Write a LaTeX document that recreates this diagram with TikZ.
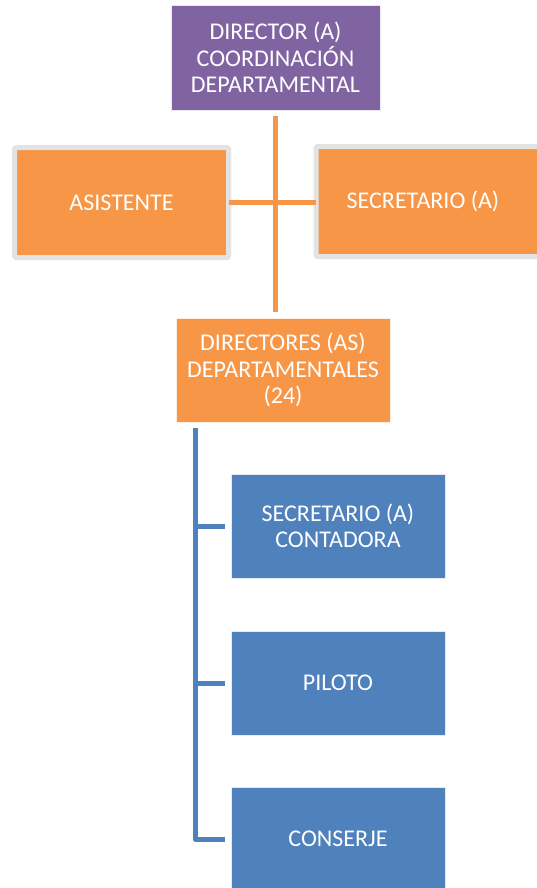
\documentclass[tikz,border=0pt]{standalone}
\usepackage{fontspec}
\setmainfont{Carlito}
\usepackage{tikz}
\usetikzlibrary{positioning}
\definecolor{lila}{HTML}{8064A2}
\definecolor{orange}{HTML}{F79646}
\definecolor{blau}{HTML}{4F81BD}
\definecolor{randgrau}{HTML}{E3E3E3}

\begin{document}
\begin{tikzpicture}[x=1pt, y=-1pt,
  every node/.style={font=\fontsize{24}{26.5}\selectfont, text=white, align=center, inner sep=0pt},
  box/.style={minimum width=214pt, minimum height=104pt},
  lilabox/.style={box, fill=lila, draw=white!85!lila, line width=0.6pt},
  orangebox/.style={box, fill=orange, draw=white!85!orange, line width=0.6pt},
  grauebox/.style={box, fill=orange, draw=randgrau, line width=5pt, rounded corners=1.5pt, minimum height=110pt},
  blaubox/.style={box, fill=blau, draw=white!85!blau, line width=0.6pt},
  oline/.style={orange, line width=5pt},
  bline/.style={blau, line width=5pt, line join=round}]

  % Rahmen
  \useasboundingbox (0,0) rectangle (537,888);
  \clip (0,0) rectangle (537,888);

  % Knoten oben
  \node[lilabox, minimum width=209pt, minimum height=105pt] (dir) at (275.5,57.5)
    {DIRECTOR (A)\\COORDINACIÓN\\DEPARTAMENTAL};
  \node[grauebox] (asis) at (121.5,202.5) {ASISTENTE};
  \node[grauebox, anchor=west, minimum width=240pt] (sec) at (313.5,201.5)
    {\makebox[214pt]{SECRETARIO (A)}\hspace*{26pt}};
  \node[orangebox] (dirs) at (283,370)
    {DIRECTORES (AS)\\DEPARTAMENTALES\\(24)};

  % Knoten unten
  \node[blaubox] (cont) at (338,526) {SECRETARIO (A)\\CONTADORA};
  \node[blaubox] (pil) at (338,683) {PILOTO};
  \node[blaubox] (cons) at (338,839) {CONSERJE};

  % Linien orange
  \draw[oline] ([yshift=-6pt]dir.south) -- ([yshift=6pt]dir.south |- dirs.north);
  \draw[oline, shorten <=-2.5pt, shorten >=-2.5pt] (asis.east) -- (asis.east -| sec.west);

  % Linien blau
  \coordinate (stamm) at ([xshift=-88pt,yshift=-6pt]dirs.south);
  \draw[bline] (stamm) |- ([xshift=-6pt]cons.west);
  \draw[bline] (stamm |- cont.west) -- ([xshift=-6pt]cont.west);
  \draw[bline] (stamm |- pil.west) -- ([xshift=-6pt]pil.west);

\end{tikzpicture}
\end{document}
